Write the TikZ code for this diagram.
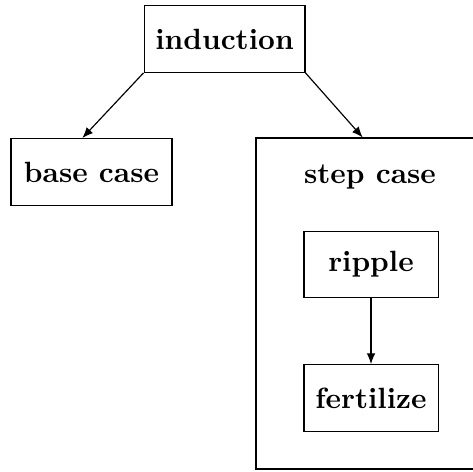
\documentclass[tikz,border=0pt]{standalone}
\usepackage{tikz}
\usetikzlibrary{arrows.meta, positioning}

\begin{document}
\begin{tikzpicture}[
    box/.style={rectangle, draw, minimum width=1.93cm, minimum height=0.8cm, align=center, font=\bfseries},
    inner/.style={rectangle, draw, minimum width=1.61cm, minimum height=0.8cm, align=center, font=\bfseries},
    frame/.style={rectangle, draw, minimum width=2.66cm, minimum height=3.97cm},
    arrow/.style={-{Latex[length=1.3mm, width=1.05mm]}}
]
\useasboundingbox (0,0) rectangle (5.676,-5.652);

\node[box] (induction) at (2.694,-0.468) {induction};
\node[box] (base) at (1.098,-2.064) {base case};

% right side of the frame runs off the page
\node[frame] (stepbox) at (4.402,-3.642) {};
\node[font=\bfseries] (steptitle) at (4.44,-2.124) {step case};

\node[inner] (ripple) at (4.452,-3.174) {ripple};
\node[inner] (fertilize) at (4.452,-4.776) {fertilize};

\draw[arrow] (induction.south west) -- ([xshift=-0.11cm]base.north);
\draw[arrow] (induction.south east) -- ([xshift=-0.05cm]stepbox.north);
\draw[arrow] (ripple) -- (fertilize);
\end{tikzpicture}
\end{document}
